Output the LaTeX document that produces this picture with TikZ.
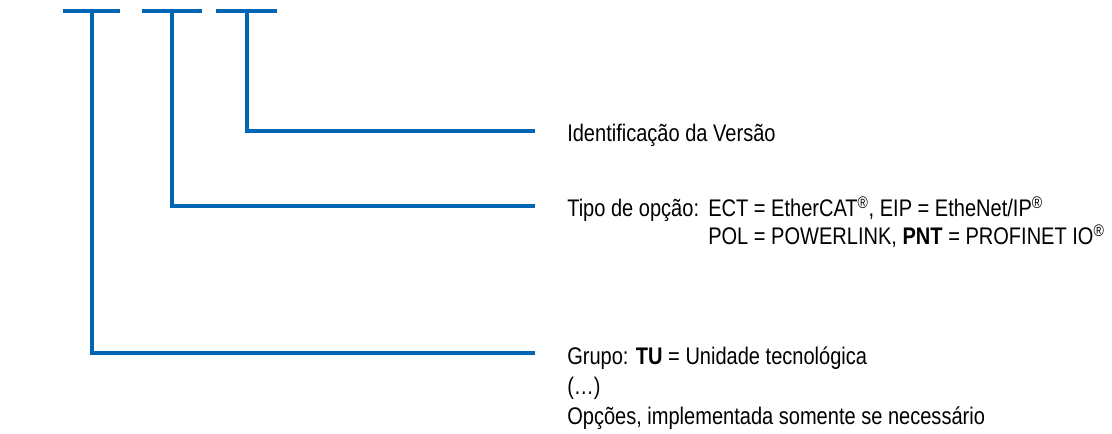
\documentclass[tikz,border=0pt]{standalone}
\usepackage{fontspec}
\setmainfont{Liberation Sans}[FakeStretch=0.835]
\usepackage{xcolor}
\usepackage{tikz}
\usetikzlibrary{positioning}
\definecolor{codeblue}{RGB}{0,102,179}
\tikzstyle{bar} = [draw=codeblue, line width=2.4pt]
\tikzstyle{stem} = [draw=codeblue, line width=3pt]
\tikzstyle{label} = [anchor=base west, inner sep=0pt, font=\fontsize{18}{22}\selectfont]

\begin{document}
\begin{tikzpicture}[x=0.75pt, y=-0.75pt]
        \useasboundingbox (0,0) rectangle (1112,434);

        % Platzhalter oben
        \coordinate (b1l) at (63,11);  \coordinate (b1r) at (120,11);
        \coordinate (b2l) at (142,11); \coordinate (b2r) at (202,11);
        \coordinate (b3l) at (216,11); \coordinate (b3r) at (277,11);
        \coordinate (t1) at (92,11);
        \coordinate (t2) at (172,11);
        \coordinate (t3) at (247,11);

        \node (ver) [label] at (567,142) {Identificação da Versão};
        \node (tipo) [label] at (567,217) {Tipo de opção:};
        \node (ect) [label] at (708,217) {ECT = EtherCAT\textsuperscript{®}, EIP = EtheNet/IP\textsuperscript{®}};
        \node (pol) [label] at (708,245) {POL = POWERLINK, \textbf{PNT} = PROFINET IO\textsuperscript{®}};
        \node (grp) [label] at (567,364) {Grupo: \textbf{TU} = Unidade tecnológica};
        \node (dots) [label] at (567,394) {(\dots)};
        \node (opt) [label] at (567,424) {Opções, implementada somente se necessário};

        \coordinate (e3) at (535,131);
        \coordinate (e2) at (535,206);
        \coordinate (e1) at (535,353);

        \draw [bar] (b1l) -- (b1r);
        \draw [bar] (b2l) -- (b2r);
        \draw [bar] (b3l) -- (b3r);

        \draw [stem] (t3) |- (e3);
        \draw [stem] (t2) |- (e2);
        \draw [stem] (t1) |- (e1);
    \end{tikzpicture}
\end{document}
